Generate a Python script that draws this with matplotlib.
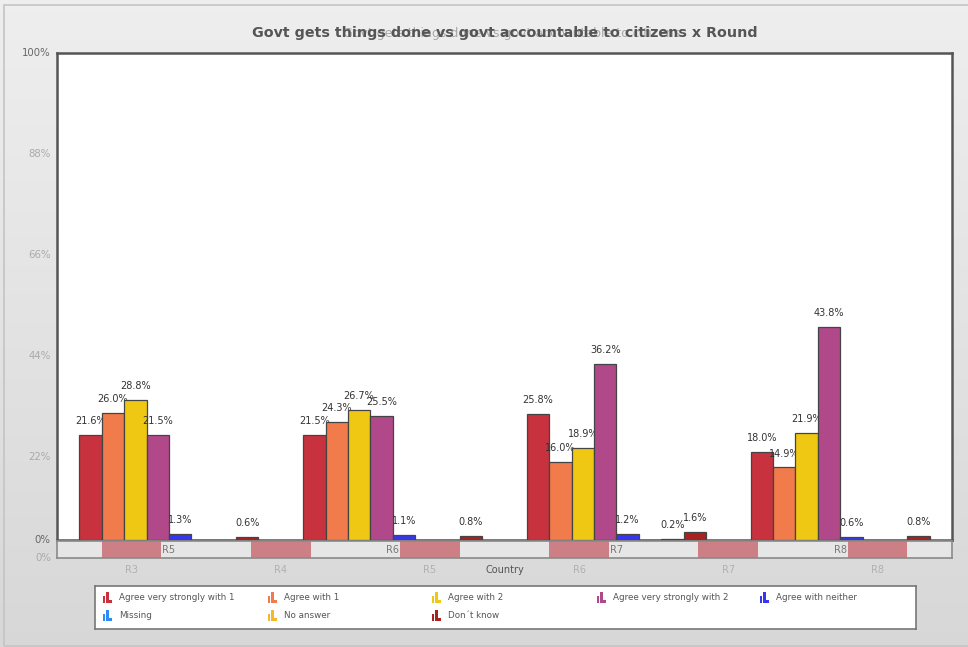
import numpy as np
import matplotlib
matplotlib.use("Agg")
import matplotlib.pyplot as plt
from matplotlib.patches import Rectangle

# ---- data ----
series = ["Agree very strongly with 1", "Agree with 1", "Agree with 2",
          "Agree very strongly with 2", "Agree with neither", "Missing",
          "No answer", "Don\u00b4t know"]
colors = ["#c8323f", "#f27b4b", "#efc814", "#b0488a", "#3636f0",
          "#2d8cf0", "#f5b82c", "#a82222"]
group_labels = ["R5", "R6", "R7", "R8"]
axis_labels = ["R3", "R4", "R5", "R6", "R7", "R8"]

agree_vs1 = [21.6, 21.5, 25.8, 18.0]
agree_1 = [26.0, 24.3, 16.0, 14.9]
agree_2 = [28.8, 26.7, 18.9, 21.9]
agree_vs2 = [21.5, 25.5, 36.2, 43.8]
agree_neither = [1.3, 1.1, 1.2, 0.6]
missing = [0.0, 0.0, 0.0, 0.0]
no_answer = [0.0, 0.0, 0.2, 0.0]
dont_know = [0.6, 0.8, 1.6, 0.8]
values = [agree_vs1, agree_1, agree_2, agree_vs2, agree_neither,
          missing, no_answer, dont_know]

ytick_pos = [0, 17.0, 37.8, 58.5, 79.3, 100]
ytick_lab = ["0%", "22%", "44%", "66%", "88%", "100%"]

W, H = 968, 647
fig = plt.figure(figsize=(W / 100, H / 100), dpi=100)

def fx(px):
    return px / W

def fy(py):
    return 1 - py / H

# background gradient
bg = fig.add_axes([0, 0, 1, 1], zorder=-10)
grad = np.linspace(0.935, 0.845, 256).reshape(-1, 1)
bg.imshow(np.dstack([grad, grad, grad]), aspect="auto", extent=[0, 1, 0, 1])
bg.add_patch(Rectangle((fx(4), fy(646)), 1, fy(5) - fy(646), fill=False,
                       edgecolor="#c4c4c4", lw=1.2, transform=bg.transAxes))
bg.set_xlim(0, 1)
bg.set_ylim(0, 1)
bg.set_axis_off()

# main plot
ax = fig.add_axes([fx(57), fy(540), fx(952) - fx(57), fy(53) - fy(540)])
ax.set_facecolor("white")
n_groups = len(group_labels)
n_series = len(series)
bw = 0.8 / n_series
x = np.arange(n_groups)
for i, (name, vals, c) in enumerate(zip(series, values, colors)):
    xs = x - 0.4 + bw * (i + 0.5)
    bars = ax.bar(xs, vals, width=bw, color=c, edgecolor="#444444", lw=0.9, zorder=3)
    for b, v in zip(bars, vals):
        if v > 0:
            ax.annotate(f"{v:.1f}%", (b.get_x() + b.get_width() / 2, v),
                        xytext=(0, 10), textcoords="offset points",
                        ha="center", va="center", fontsize=7, color="#333333")
ax.set_xlim(-0.5, n_groups - 0.5)
ax.set_ylim(0, 100)
ax.set_xticks([])
ax.set_yticks([])
for s in ax.spines.values():
    s.set_color("#555555")
    s.set_linewidth(1.8)

# y tick labels (placed where the original renders them)
ytick_col = ["#666666", "#aaaaaa", "#aaaaaa", "#aaaaaa", "#aaaaaa", "#666666"]
for p, lab, col in zip(ytick_pos, ytick_lab, ytick_col):
    ax.text(-0.007, p, lab, transform=ax.get_yaxis_transform(), ha="right",
            va="center", fontsize=7.3, color=col)
fig.text(fx(51), fy(558), "0%", ha="right", va="center", fontsize=7.3, color="#aaaaaa")

# category band under the plot
band = fig.add_axes([fx(57), fy(558), fx(952) - fx(57), fy(541) - fy(558)])
band.set_facecolor("#e6e6e6")
band.set_xlim(0, len(axis_labels))
band.set_ylim(0, 1)
for k in range(len(axis_labels)):
    band.add_patch(Rectangle((k + 0.3, 0), 0.4, 1, color="#cc8085", lw=0))
for g, lab in enumerate(group_labels):
    band.text((g + 0.5) * len(axis_labels) / n_groups, 0.45, lab, ha="center",
              va="center", fontsize=7, color="#777777")
band.set_xticks([])
band.set_yticks([])
for s in band.spines.values():
    s.set_color("#8a8a8a")
    s.set_linewidth(1.2)

# lower axis labels
for k, lab in enumerate(axis_labels):
    fig.text(fx(57) + (fx(952) - fx(57)) * (k + 0.5) / len(axis_labels), fy(570),
             lab, ha="center", va="center", fontsize=7, color="#b0b0b0")
fig.text(fx(505), fy(570), "Country", ha="center", va="center", fontsize=7, color="#555555")

# title with faint overlapping duplicate, as in the original
fig.text(fx(512), fy(33), "Govt gets things done vs govt accountable to citizens",
         ha="center", va="center", fontsize=9, color="#a8a8a8")
fig.text(fx(505), fy(33), "Govt gets things done vs govt accountable to citizens x Round",
         ha="center", va="center", fontsize=10.3, fontweight="bold", color="#555555")

# legend box
lg = fig.add_axes([fx(95), fy(629), fx(916) - fx(95), fy(586) - fy(629)])
lg.set_facecolor("white")
lg.set_xlim(95, 916)
lg.set_ylim(629, 586)
lg.set_xticks([])
lg.set_yticks([])
for s in lg.spines.values():
    s.set_color("#777777")
    s.set_linewidth(1.2)
col_x = [103, 268, 432, 597, 760]
row_y = [598, 616]
for i, (name, c) in enumerate(zip(series, colors)):
    cx = col_x[i % 5]
    cy = row_y[i // 5]
    for j, h in enumerate([7, 11, 3]):
        lg.add_patch(Rectangle((cx + j * 3.2, cy + 5 - h), 2.4, h, color=c, lw=0))
    lg.text(cx + 16, cy, name, ha="left", va="center", fontsize=6.3, color="#555555")

fig.savefig("out.png", dpi=100)
